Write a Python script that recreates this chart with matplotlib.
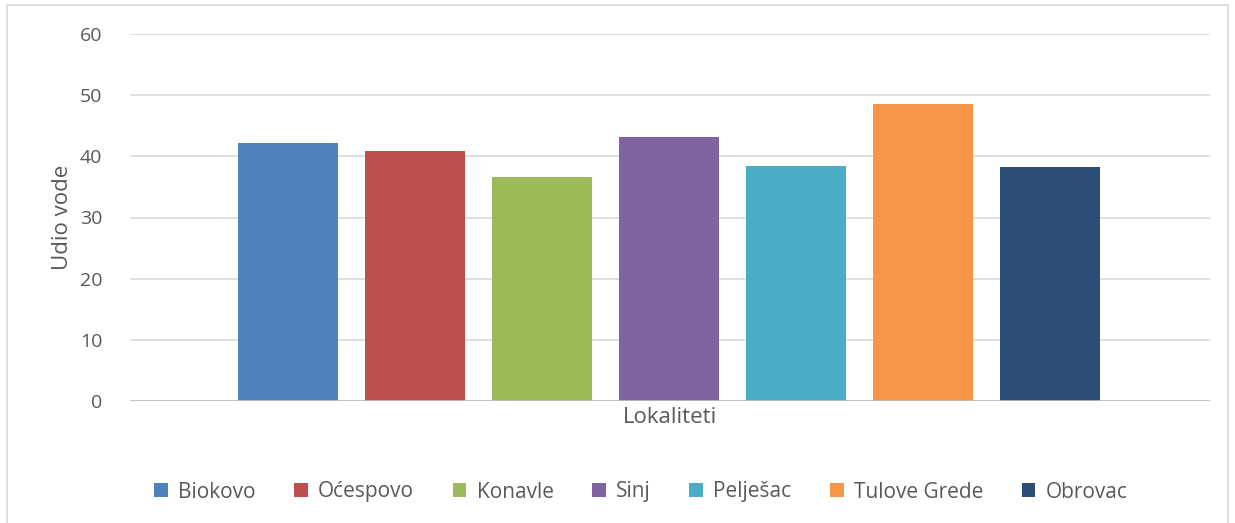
import matplotlib.pyplot as plt
from matplotlib.patches import Rectangle

locations = ['Biokovo', 'Oćespovo', 'Konavle', 'Sinj', 'Pelješac', 'Tulove Grede', 'Obrovac']
water_share = [42.2, 40.9, 36.7, 43.1, 38.5, 48.6, 38.3]
colors = ['#4f81bd', '#c0504d', '#9bbb59', '#8064a2', '#4bacc6', '#f79646', '#2c4d75']
yticks = [0, 10, 20, 30, 40, 50, 60]

plt.rcParams['font.family'] = ['Open Sans', 'DejaVu Sans']
text_color = '#595959'

fig = plt.figure(figsize=(12.35, 5.23), dpi=100)
ax = fig.add_axes([130 / 1235, 1 - 401 / 523, 1080 / 1235, 367 / 523])

for i, (name, val, col) in enumerate(zip(locations, water_share, colors)):
    ax.bar(i, val, width=100 / 127, color=col, label=name, zorder=3)

ax.set_xlim(-1.244, 7.26)
ax.set_ylim(0, 60)
ax.set_yticks(yticks)
ax.set_xticks([])
ax.grid(axis='y', color='#d9d9d9', linewidth=1.2, zorder=0)
ax.axhline(0, color='#bfbfbf', linewidth=1.2, zorder=4)
for s in ax.spines.values():
    s.set_visible(False)
ax.tick_params(axis='y', length=0, pad=20, labelsize=14, labelcolor=text_color)
ax.set_ylabel('Udio vode', fontsize=16, color=text_color, labelpad=5)
ax.set_xlabel('Lokaliteti', fontsize=16, color=text_color, labelpad=4)

fig.legend(loc='center', bbox_to_anchor=(0.519, 1 - 492 / 523), ncol=7, frameon=False,
           fontsize=15, labelcolor=text_color, handlelength=0.65, handleheight=0.65,
           handletextpad=0.5, columnspacing=1.85)

fig.patches.append(Rectangle((7 / 1235, -0.01), 1221 / 1235, 1 - 5 / 523 + 0.01,
                             transform=fig.transFigure, fill=False,
                             edgecolor='#d9d9d9', linewidth=1.2))

fig.savefig('out.png', dpi=100)
